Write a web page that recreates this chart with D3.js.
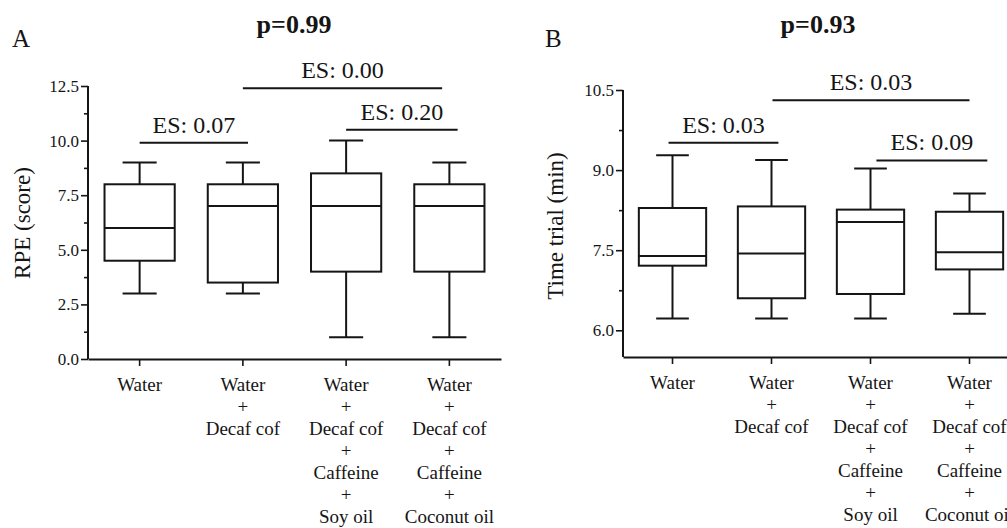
<!DOCTYPE html>
<html>
<head>
<meta charset="utf-8">
<script src="https://cdn.jsdelivr.net/npm/d3@7"></script>
<style>
  html, body { margin: 0; padding: 0; background: #fff; }
  svg { display: block; }
  svg text { font-family: "Liberation Serif", "DejaVu Serif", serif; }
</style>
</head>
<body>
<svg id="chart" width="1007" height="528"></svg>
<script>
// ─── Datos ────────────────────────────────────────────────────────────────────

const groupLabels = [
  ["Water"],
  ["Water", "+", "Decaf cof"],
  ["Water", "+", "Decaf cof", "+", "Caffeine", "+", "Soy oil"],
  ["Water", "+", "Decaf cof", "+", "Caffeine", "+", "Coconut oil"],
];

// Panel A — RPE (score)
const rpeMin    = [3, 3, 1, 1];
const rpeQ1     = [4.5, 3.5, 4, 4];
const rpeMedian = [6, 7, 7, 7];
const rpeQ3     = [8, 8, 8.5, 8];
const rpeMax    = [9, 9, 10, 9];
const rpeTicks      = [0, 2.5, 5, 7.5, 10, 12.5];
const rpeMinorTicks = [1.25, 3.75, 6.25, 8.75, 11.25];
const rpeES = [
  { label: "ES: 0.07", from: 0, to: 1.05, y: 9.9 },
  { label: "ES: 0.00", from: 1, to: 2.93, y: 12.4 },
  { label: "ES: 0.20", from: 2, to: 3.08, y: 10.5 },
];

// Panel B — Time trial (min)
const timeMin    = [6.22, 6.22, 6.22, 6.31];
const timeQ1     = [7.21, 6.60, 6.68, 7.14];
const timeMedian = [7.39, 7.44, 8.03, 7.46];
const timeQ3     = [8.29, 8.32, 8.26, 8.22];
const timeMax    = [9.28, 9.19, 9.03, 8.56];
const timeTicks      = [6.0, 7.5, 9.0, 10.5];
const timeMinorTicks = [6.75, 8.25, 9.75];
const timeES = [
  { label: "ES: 0.03", from: -0.04, to: 1.07, y: 9.51 },
  { label: "ES: 0.03", from: 1.01, to: 3.0, y: 10.31 },
  { label: "ES: 0.09", from: 2.06, to: 3.18, y: 9.18 },
];

// ─── Dibujo ───────────────────────────────────────────────────────────────────

const svg = d3.select("#chart");
const INK = "#151515";
const SERIF = "'Liberation Serif', 'DejaVu Serif', serif";

function drawPanel(cfg) {
  const g = svg.append("g").attr("font-family", SERIF);
  const n = cfg.min.length;

  const x = d3.scaleBand().domain(d3.range(n)).range([cfg.x0, cfg.x1]);
  const y = d3.scaleLinear().domain(cfg.domain).range([cfg.yBottom, cfg.yTop]);
  const cx = i => x(i) + x.bandwidth() / 2;
  const boxW = x.bandwidth() * 0.68;
  const capW = x.bandwidth() * 0.33;

  // Eje Y: ticks mayores con etiqueta + menores
  const yAxis = g.append("g")
    .attr("transform", `translate(${cfg.x0},0)`)
    .call(d3.axisLeft(y).tickValues(cfg.ticks).tickFormat(d3.format(".1f"))
      .tickSize(7).tickPadding(2));
  yAxis.attr("font-family", SERIF).attr("font-size", 17);
  yAxis.select(".domain").attr("d", `M0,${y(cfg.ticks[cfg.ticks.length - 1])}V${cfg.yBottom}`);
  g.append("g")
    .attr("transform", `translate(${cfg.x0},0)`)
    .call(d3.axisLeft(y).tickValues(cfg.minor).tickFormat("").tickSize(4))
    .select(".domain").remove();

  // Eje X
  g.append("g")
    .attr("transform", `translate(0,${cfg.yBottom})`)
    .call(d3.axisBottom(x).tickFormat("").tickSize(7).tickSizeOuter(0));

  g.selectAll(".domain").attr("stroke", INK).attr("stroke-width", 2);
  g.selectAll(".tick line").attr("stroke", INK).attr("stroke-width", 1.6);
  g.selectAll(".tick text").attr("fill", INK);

  // Etiquetas de categoría (multilínea)
  groupLabels.forEach((lines, i) => {
    const t = g.append("text")
      .attr("text-anchor", "middle")
      .attr("fill", INK)
      .attr("font-family", SERIF)
      .attr("font-size", 19);
    lines.forEach((ln, k) => {
      t.append("tspan").attr("x", cx(i)).attr("y", cfg.yBottom + 32 + k * 22).text(ln);
    });
  });

  // Bigotes
  const idx = d3.range(n);
  g.selectAll(".whisker").data(idx).join("line")
    .attr("x1", cx).attr("x2", cx)
    .attr("y1", i => y(cfg.max[i])).attr("y2", i => y(cfg.min[i]))
    .attr("stroke", INK).attr("stroke-width", 2);
  [cfg.max, cfg.min].forEach(arr => {
    g.selectAll(null).data(idx).join("line")
      .attr("x1", i => cx(i) - capW / 2).attr("x2", i => cx(i) + capW / 2)
      .attr("y1", i => y(arr[i])).attr("y2", i => y(arr[i]))
      .attr("stroke", INK).attr("stroke-width", 2);
  });

  // Cajas
  g.selectAll(".box").data(idx).join("rect")
    .attr("x", i => cx(i) - boxW / 2)
    .attr("width", boxW)
    .attr("y", i => y(cfg.q3[i]))
    .attr("height", i => y(cfg.q1[i]) - y(cfg.q3[i]))
    .attr("fill", "#fff").attr("stroke", INK).attr("stroke-width", 2);
  g.selectAll(".median").data(idx).join("line")
    .attr("x1", i => cx(i) - boxW / 2).attr("x2", i => cx(i) + boxW / 2)
    .attr("y1", i => y(cfg.median[i])).attr("y2", i => y(cfg.median[i]))
    .attr("stroke", INK).attr("stroke-width", 2);

  // Barras de tamaño del efecto
  const posX = f => cx(0) + f * x.step();
  cfg.es.forEach(e => {
    g.append("line")
      .attr("x1", posX(e.from)).attr("x2", posX(e.to))
      .attr("y1", y(e.y)).attr("y2", y(e.y))
      .attr("stroke", INK).attr("stroke-width", 2);
    g.append("text")
      .attr("x", (posX(e.from) + posX(e.to)) / 2)
      .attr("y", y(e.y) - 10)
      .attr("text-anchor", "middle")
      .attr("fill", INK)
      .attr("font-size", 24)
      .text(e.label);
  });

  // Título, letra de panel y etiqueta del eje Y
  g.append("text")
    .attr("x", cfg.titleX).attr("y", 33)
    .attr("text-anchor", "middle")
    .attr("fill", INK)
    .attr("font-size", 26).attr("font-weight", "bold")
    .text(cfg.title);
  g.append("text")
    .attr("x", cfg.letterX).attr("y", 47)
    .attr("fill", INK)
    .attr("font-size", 25)
    .text(cfg.letter);
  g.append("text")
    .attr("transform", `translate(${cfg.yLabelX},${cfg.yLabelY}) rotate(-90)`)
    .attr("text-anchor", "middle")
    .attr("fill", INK)
    .attr("font-size", 23)
    .text(cfg.yLabel);
}

drawPanel({
  min: rpeMin, q1: rpeQ1, median: rpeMedian, q3: rpeQ3, max: rpeMax,
  ticks: rpeTicks, minor: rpeMinorTicks, es: rpeES,
  domain: [0, 12.5], x0: 88, x1: 501, yTop: 86, yBottom: 359,
  title: "p=0.99", titleX: 294, letter: "A", letterX: 12,
  yLabel: "RPE (score)", yLabelX: 30, yLabelY: 223,
});

drawPanel({
  min: timeMin, q1: timeQ1, median: timeMedian, q3: timeQ3, max: timeMax,
  ticks: timeTicks, minor: timeMinorTicks, es: timeES,
  domain: [5.5, 10.5], x0: 623, x1: 1019, yTop: 90, yBottom: 357,
  title: "p=0.93", titleX: 818, letter: "B", letterX: 545,
  yLabel: "Time trial (min)", yLabelX: 563, yLabelY: 226,
});
</script>
</body>
</html>
